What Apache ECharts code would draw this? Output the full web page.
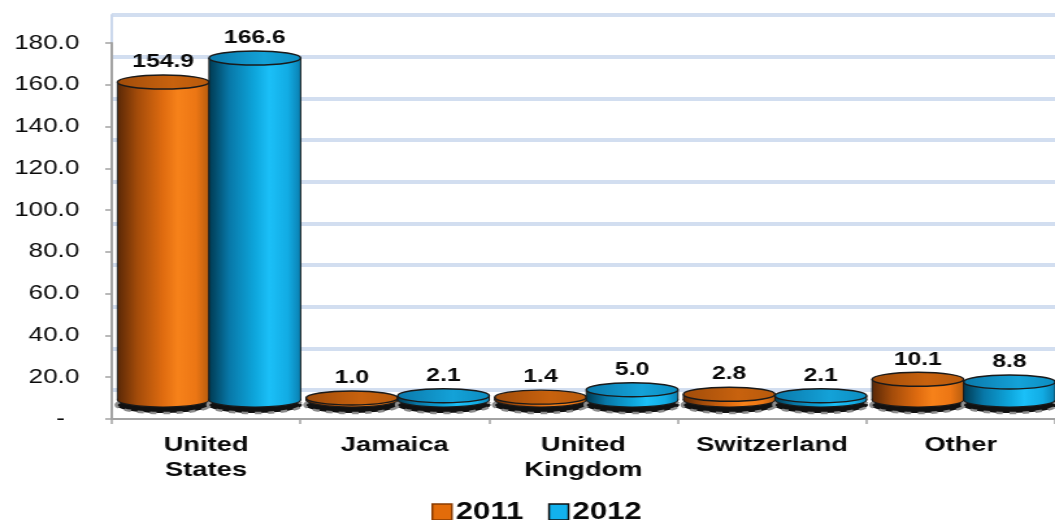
<!DOCTYPE html>
<html>
<head>
<meta charset="utf-8">
<script src="https://cdn.jsdelivr.net/npm/echarts@6/dist/echarts.min.js"></script>
<style>
  html, body { margin: 0; padding: 0; background: #ffffff; overflow: hidden; }
  /* the chart is laid out narrow and widened horizontally, giving the wide lettering */
  #chart { width: 812px; height: 520px; transform: scaleX(1.2993); transform-origin: 0 0; }
</style>
</head>
<body>
<div id="chart"></div>
<script>
// Source countries and amounts
const categories = ['United\nStates', 'Jamaica', 'United\nKingdom', 'Switzerland', 'Other'];
const values2011 = [154.9, 1.0, 1.4, 2.8, 10.1];
const values2012 = [166.6, 2.1, 5.0, 2.1, 8.8];
const seriesNames = ['2011', '2012'];
const yTicks = { min: 0, max: 180, interval: 20 };

const FONT = 'Liberation Sans, Arial, sans-serif';
const INK = '#0a0a0a';

const palette = [
  { // orange
    body: ['#5a2806', '#a44c0a', '#e06c10', '#f7821a', '#ec7614', '#b75c0e'],
    top: ['#a04c0a', '#c8620e', '#b85a0c'],
    legend: '#e36c0a', legendBorder: '#8a3c02'
  },
  { // blue
    body: ['#003a52', '#0878a8', '#0ea6dc', '#1bc0f8', '#12ace4', '#0a80b2'],
    top: ['#0a78aa', '#14a2d8', '#0c8cc0'],
    legend: '#12b2ee', legendBorder: '#101010'
  }
];

const gradStops = [0, 0.22, 0.5, 0.66, 0.86, 1];
function hGrad(colors) {
  return new echarts.graphic.LinearGradient(0, 0, 1, 0,
    colors.map((c, i) => ({ offset: gradStops[i], color: c })));
}

// Draws one cylinder per data item
function cylinder(k) {
  return function (params, api) {
    const cat = api.value(0);
    const v = api.value(1);
    const base = api.coord([cat, 0]);
    const top = api.coord([cat, v]);
    const band = api.size([1, 0])[0];
    const w = band * 0.4856;
    const x0 = base[0] - band / 2 + band * 0.03 + k * w;
    const cx = x0 + w / 2;
    const ry = 7;
    const p = palette[k];
    const bodyFill = hGrad(p.body);
    const topFill = new echarts.graphic.LinearGradient(0, 0, 1, 0, [
      { offset: 0, color: p.top[0] }, { offset: 0.6, color: p.top[1] }, { offset: 1, color: p.top[2] }
    ]);
    return {
      type: 'group',
      children: [
        { // floor shadow
          type: 'ellipse',
          shape: { cx: cx, cy: base[1] + 5, rx: w / 2 + 1, ry: ry + 1 },
          style: { fill: '#111111', stroke: '#8c8c8c', lineWidth: 2.5, lineDash: [5, 5] }
        },
        {
          type: 'ellipse',
          shape: { cx: cx, cy: base[1], rx: w / 2, ry: ry },
          style: { fill: bodyFill, stroke: '#1a1a1a', lineWidth: 1.2 }
        },
        {
          type: 'rect',
          shape: { x: x0, y: top[1], width: w, height: Math.max(0, base[1] - top[1]) },
          style: { fill: bodyFill }
        },
        {
          type: 'line',
          shape: { x1: x0, y1: top[1], x2: x0, y2: base[1] },
          style: { stroke: '#1a1a1a', lineWidth: 1 }
        },
        {
          type: 'line',
          shape: { x1: x0 + w, y1: top[1], x2: x0 + w, y2: base[1] },
          style: { stroke: '#1a1a1a', lineWidth: 1 }
        },
        {
          type: 'ellipse',
          shape: { cx: cx, cy: top[1], rx: w / 2, ry: ry },
          style: { fill: topFill, stroke: '#1a1a1a', lineWidth: 1.4 }
        },
        {
          type: 'text',
          z2: 100,
          style: {
            text: v.toFixed(1), x: cx, y: top[1] - 20,
            align: 'center', verticalAlign: 'middle',
            font: 'bold 19px ' + FONT, fill: INK
          }
        }
      ]
    };
  };
}

const chart = echarts.init(document.getElementById('chart'), null, { renderer: 'canvas' });

const gridLR = { left: 86, right: -6 };

chart.setOption({
  animation: false,
  backgroundColor: '#ffffff',
  grid: [
    Object.assign({ top: 43, bottom: 101 }, gridLR),   // front axes
    Object.assign({ top: 15, bottom: 130 }, gridLR),   // back wall
    Object.assign({ top: 30.5, bottom: 120 }, gridLR)  // cylinders
  ],
  legend: {
    left: 332, top: 500, padding: 0,
    itemWidth: 15, itemHeight: 16, itemGap: 19,
    textStyle: { fontFamily: FONT, fontWeight: 'bold', fontSize: 24, color: INK, padding: [0, 0, 0, -2] },
    data: seriesNames.map((n, i) => ({
      name: n, icon: 'rect',
      itemStyle: { color: palette[i].legend, borderColor: palette[i].legendBorder, borderWidth: 1.5 }
    }))
  },
  xAxis: [
    {
      gridIndex: 0, type: 'category', data: categories, boundaryGap: true,
      axisLine: { lineStyle: { color: '#a3a3a3', width: 2 } },
      axisTick: { show: true, length: 5, lineStyle: { color: '#a3a3a3', width: 1.5 } },
      axisLabel: {
        margin: 14, interval: 0, color: INK,
        fontFamily: FONT, fontWeight: 'bold', fontSize: 21, lineHeight: 25
      },
      splitLine: { show: false }
    },
    { gridIndex: 1, type: 'category', data: categories, show: false },
    { gridIndex: 2, type: 'category', data: categories, show: false }
  ],
  yAxis: [
    {
      gridIndex: 0, type: 'value', min: yTicks.min, max: yTicks.max, interval: yTicks.interval,
      axisLine: { show: true, lineStyle: { color: '#a3a3a3', width: 2 } },
      axisTick: { show: true, length: 5, lineStyle: { color: '#a3a3a3', width: 1.5 } },
      splitLine: { show: false },
      axisLabel: {
        margin: 25, color: INK, fontFamily: FONT, fontSize: 20,
        formatter: v => v === 0 ? '{d|-}' : v.toFixed(1),
        rich: { d: { fontFamily: FONT, fontSize: 20, color: INK, padding: [0, 11, 0, 0] } }
      },
      z: 5
    },
    {
      gridIndex: 1, type: 'value', min: yTicks.min, max: yTicks.max, interval: yTicks.interval,
      axisLine: { show: true, lineStyle: { color: '#cbd8ec', width: 2 } },
      axisTick: { show: false },
      axisLabel: { show: false },
      splitLine: { show: true, lineStyle: { color: '#d2def0', width: 4 } },
      z: 1
    },
    {
      gridIndex: 2, type: 'value', min: yTicks.min, max: yTicks.max, show: false
    }
  ],
  series: seriesNames.map((name, k) => ({
    name: name,
    type: 'custom',
    xAxisIndex: 2, yAxisIndex: 2,
    itemStyle: { color: palette[k].legend },
    renderItem: cylinder(k),
    encode: { x: 0, y: 1 },
    data: (k === 0 ? values2011 : values2012).map((v, i) => [i, v]),
    z: 3
  }))
});
</script>
</body>
</html>
